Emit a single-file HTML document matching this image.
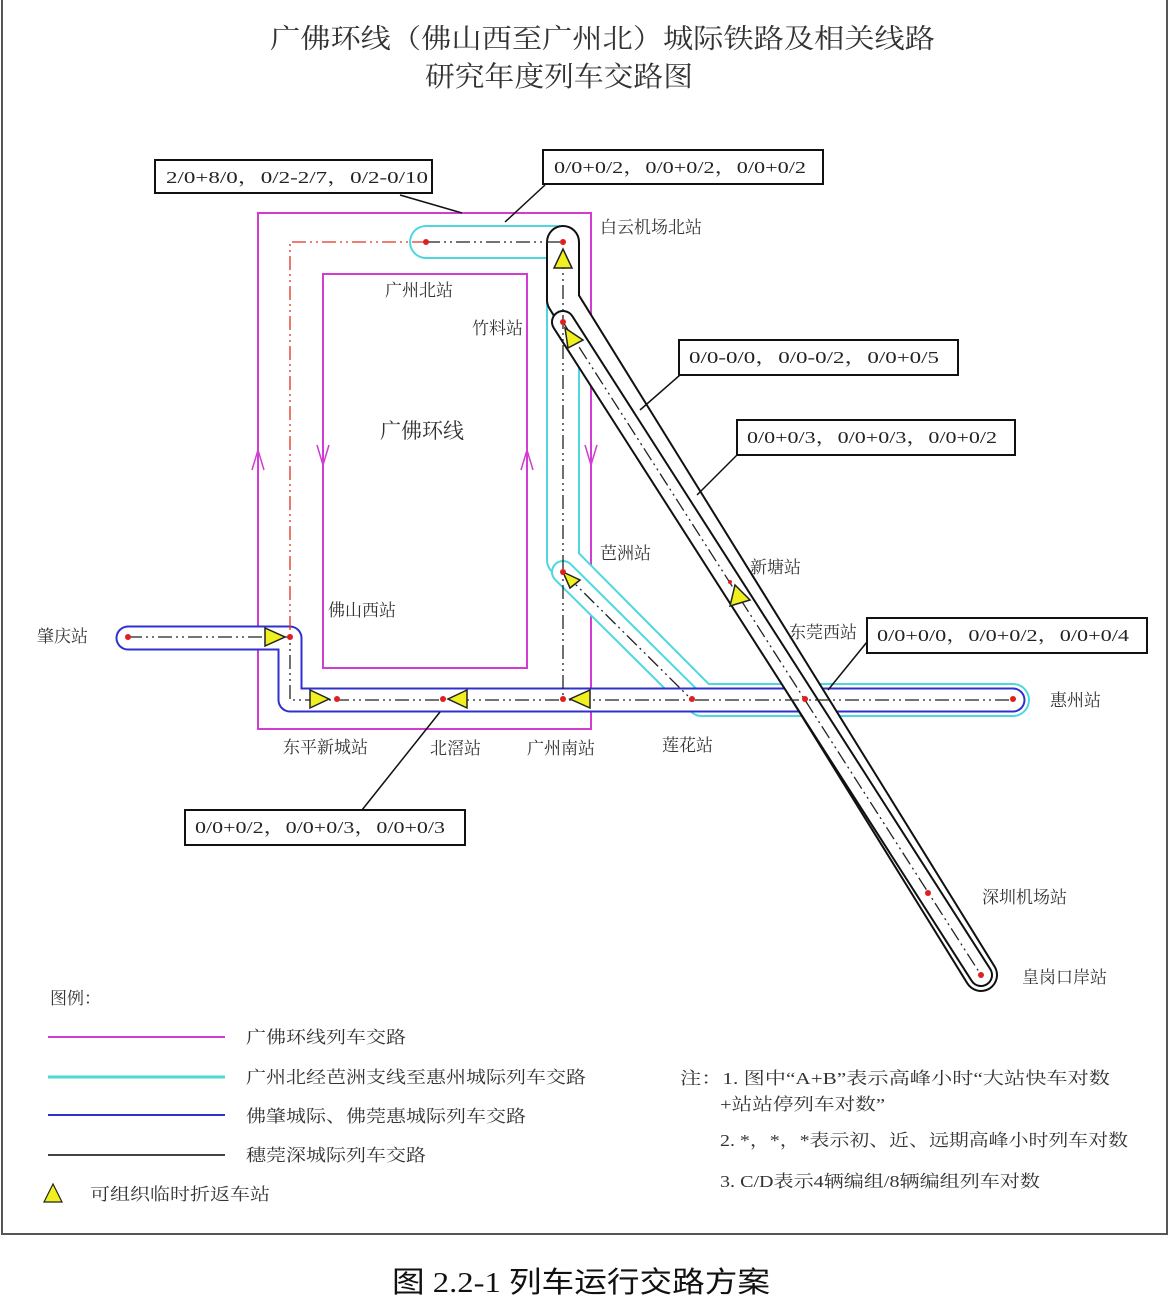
<!DOCTYPE html>
<html><head><meta charset="utf-8"><style>
html,body{margin:0;padding:0;background:#fff;}
svg{display:block;}
text{font-family:"Liberation Serif","Noto Serif CJK SC","Noto Sans CJK SC",serif;fill:#333;}
.l{font-size:17px;}
.b{font-family:"Liberation Serif","Noto Serif CJK SC",serif;font-size:17px;fill:#222;}
</style></head><body>
<svg width="1170" height="1297" viewBox="0 0 1170 1297" xmlns="http://www.w3.org/2000/svg">
<rect x="2" y="-2" width="1165" height="1236" fill="#fff" stroke="#555" stroke-width="2"/>
<text x="270" y="48" textLength="665" lengthAdjust="spacingAndGlyphs" style="font-size:27px">广佛环线（佛山西至广州北）城际铁路及相关线路</text>
<text x="425" y="86" textLength="268" lengthAdjust="spacingAndGlyphs" style="font-size:28px">研究年度列车交路图</text>

<rect x="258" y="213" width="333" height="516" fill="none" stroke="#d23cd2" stroke-width="2"/>
<rect x="323" y="274" width="204" height="394" fill="none" stroke="#d23cd2" stroke-width="2"/>
<g stroke="#d23cd2" stroke-width="1.5" fill="none">
<path d="M252 470 L258 450 L264 470"/>
<path d="M317 445 L323 465 L329 445"/>
<path d="M521 470 L527 450 L533 470"/>
<path d="M585 445 L591 465 L597 445"/>
</g>

<g fill="none" stroke-linejoin="round" stroke-linecap="round">
<path d="M426 242 H563 V560 L702 700 H1013" stroke="#4dd8e0" stroke-width="34"/>
<path d="M426 242 H563 V560 L702 700 H1013" stroke="#fff" stroke-width="30"/>
<path d="M563 572 L692 700" stroke="#4dd8e0" stroke-width="24"/>
<path d="M563 572 L692 700" stroke="#fff" stroke-width="20"/>
<path d="M128 638 H290 V700 H1013" stroke="#3030d0" stroke-width="25"/>
<path d="M128 638 H290 V700 H1013" stroke="#fff" stroke-width="21"/>
<path d="M563 242 V300 L981 975" stroke="#111" stroke-width="34"/>
<path d="M563 242 V300 L981 975" stroke="#fff" stroke-width="30"/>
<path d="M563 322 L981 975" stroke="#111" stroke-width="24"/>
<path d="M563 322 L981 975" stroke="#fff" stroke-width="20"/>
</g>

<g fill="none" stroke-width="1.3" stroke-dasharray="14 4 2 4 2 4">
<path d="M426 242 H290 V637" stroke="#e03020"/>
<path d="M426 242 H563 V700" stroke="#222"/>
<path d="M128 637 H290 V700 H1013" stroke="#222"/>
<path d="M563 572 L692 700" stroke="#222"/>
<path d="M563 322 L981 975" stroke="#222"/>
</g>

<g fill="#f0f020" stroke="#222" stroke-width="1.5">
<polygon points="563,249 554,268 572,268"/>
<polygon points="565,328 583,340 568,348"/>
<polygon points="563,572 580,580 570,588"/>
<polygon points="735,585 730,606 750,600"/>
<polygon points="265,628 265,646 285,637"/>
<polygon points="310,690 310,708 329,699"/>
<polygon points="467,690 467,708 448,699"/>
<polygon points="590,690 590,708 570,699"/>
</g>
<g fill="#e02020">
<circle cx="426" cy="242" r="3"/><circle cx="563" cy="242" r="3"/><circle cx="563" cy="322" r="3"/>
<circle cx="563" cy="572" r="3"/><circle cx="290" cy="637" r="3"/><circle cx="128" cy="637" r="3"/>
<circle cx="337" cy="699" r="3"/><circle cx="443" cy="699" r="3"/><circle cx="563" cy="699" r="3"/>
<circle cx="692" cy="699" r="3"/><circle cx="805" cy="699" r="3"/><circle cx="1013" cy="699" r="3"/>
<circle cx="928" cy="893" r="3"/><circle cx="981" cy="975" r="3"/><circle cx="730" cy="582" r="2"/>
</g>

<g fill="#fff" stroke="#111" stroke-width="2">
<rect x="155" y="160" width="277" height="33"/>
<rect x="543" y="150" width="280" height="34"/>
<rect x="679" y="340" width="279" height="35"/>
<rect x="737" y="420" width="278" height="35"/>
<rect x="867" y="618" width="280" height="35"/>
<rect x="185" y="810" width="280" height="35"/>
</g>
<g stroke="#111" stroke-width="1.5" fill="none">
<path d="M400 195 L462 213"/><path d="M545 185 L505 222"/>
<path d="M680 375 L640 410"/><path d="M737 455 L697 495"/>
<path d="M867 642 L828 690"/><path d="M362 810 L440 712"/>
</g>
<text class="b" x="166" y="183" textLength="262" lengthAdjust="spacingAndGlyphs">2/0+8/0，0/2-2/7，0/2-0/10</text>
<text class="b" x="554" y="173" textLength="252" lengthAdjust="spacingAndGlyphs">0/0+0/2，0/0+0/2，0/0+0/2</text>
<text class="b" x="689" y="363" textLength="250" lengthAdjust="spacingAndGlyphs">0/0-0/0，0/0-0/2，0/0+0/5</text>
<text class="b" x="747" y="443" textLength="250" lengthAdjust="spacingAndGlyphs">0/0+0/3，0/0+0/3，0/0+0/2</text>
<text class="b" x="877" y="641" textLength="252" lengthAdjust="spacingAndGlyphs">0/0+0/0，0/0+0/2，0/0+0/4</text>
<text class="b" x="195" y="833" textLength="250" lengthAdjust="spacingAndGlyphs">0/0+0/2，0/0+0/3，0/0+0/3</text>

<text class="l" x="600" y="233">白云机场北站</text>
<text class="l" x="385" y="296">广州北站</text>
<text class="l" x="472" y="334">竹料站</text>
<text x="380" y="438" style="font-size:21px">广佛环线</text>
<text class="l" x="600" y="559">芭洲站</text>
<text class="l" x="750" y="573">新塘站</text>
<text class="l" x="328" y="616">佛山西站</text>
<text class="l" x="37" y="642">肇庆站</text>
<text class="l" x="789" y="638">东莞西站</text>
<text class="l" x="1050" y="706">惠州站</text>
<text class="l" x="283" y="753">东平新城站</text>
<text class="l" x="430" y="754">北滘站</text>
<text class="l" x="527" y="754">广州南站</text>
<text class="l" x="662" y="751">莲花站</text>
<text class="l" x="982" y="903">深圳机场站</text>
<text class="l" x="1022" y="983">皇岗口岸站</text>

<text class="l" x="50" y="1004">图例：</text>
<line x1="48" y1="1037" x2="225" y2="1037" stroke="#d23cd2" stroke-width="2"/>
<line x1="48" y1="1077" x2="225" y2="1077" stroke="#4dd8d0" stroke-width="3"/>
<line x1="48" y1="1115" x2="225" y2="1115" stroke="#3030d0" stroke-width="2"/>
<line x1="48" y1="1155" x2="225" y2="1155" stroke="#444" stroke-width="2"/>
<text class="l" x="246" y="1043" textLength="160" lengthAdjust="spacingAndGlyphs">广佛环线列车交路</text>
<text class="l" x="246" y="1083" textLength="340" lengthAdjust="spacingAndGlyphs">广州北经芭洲支线至惠州城际列车交路</text>
<text class="l" x="246" y="1122" textLength="280" lengthAdjust="spacingAndGlyphs">佛肇城际、佛莞惠城际列车交路</text>
<text class="l" x="246" y="1161" textLength="180" lengthAdjust="spacingAndGlyphs">穗莞深城际列车交路</text>
<polygon points="53,1184 44,1202 62,1202" fill="#f0f020" stroke="#222" stroke-width="1.2"/>
<text class="l" x="90" y="1200" textLength="180" lengthAdjust="spacingAndGlyphs">可组织临时折返车站</text>
<text class="l" x="680" y="1084" textLength="430" lengthAdjust="spacingAndGlyphs">注：1. 图中“A+B”表示高峰小时“大站快车对数</text>
<text class="l" x="720" y="1110" textLength="165" lengthAdjust="spacingAndGlyphs">+站站停列车对数”</text>
<text class="l" x="720" y="1146" textLength="408" lengthAdjust="spacingAndGlyphs">2. *，*，*表示初、近、远期高峰小时列车对数</text>
<text class="l" x="720" y="1187" textLength="320" lengthAdjust="spacingAndGlyphs">3. C/D表示4辆编组/8辆编组列车对数</text>

<text x="392" y="1292" textLength="378" lengthAdjust="spacingAndGlyphs" style="font-family:'Liberation Serif','Noto Sans CJK SC',sans-serif;font-size:29px;fill:#111">图 2.2-1  列车运行交路方案</text>
</svg>
</body></html>
